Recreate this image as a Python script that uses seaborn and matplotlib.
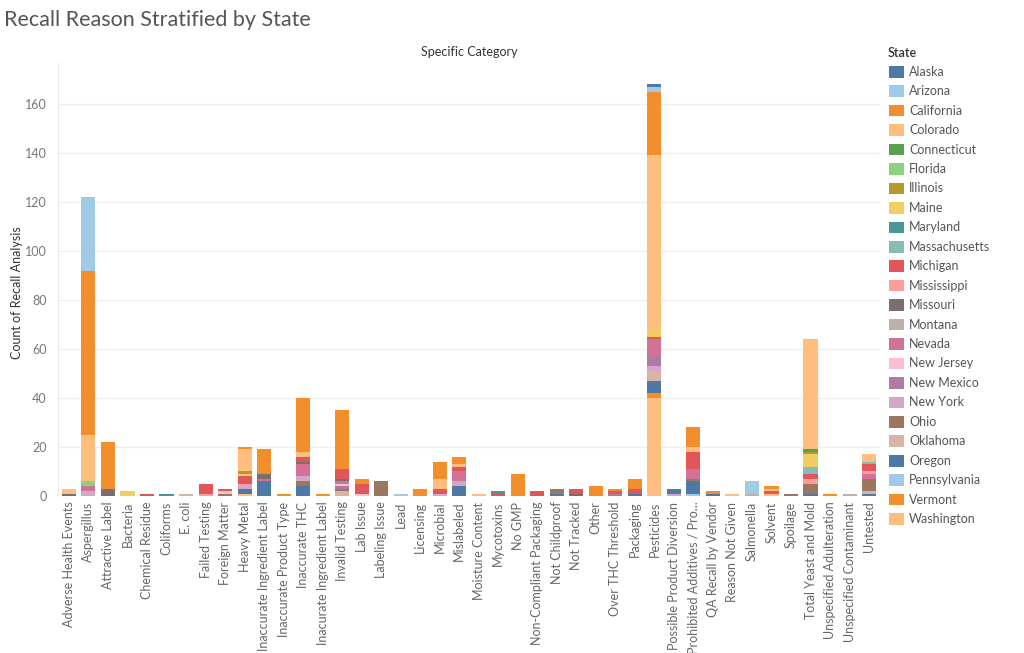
import numpy as np
import pandas as pd
import matplotlib
matplotlib.use("Agg")
import matplotlib.pyplot as plt
from matplotlib.patches import Rectangle
import seaborn as sns

# Recall reasons (x axis), in display order
reasons = [
    "Adverse Health Events", "Aspergillus", "Attractive Label", "Bacteria",
    "Chemical Residue", "Coliforms", "E. coli", "Failed Testing",
    "Foreign Matter", "Heavy Metal", "Inaccurate Ingredient Label",
    "Inaccurate Product Type", "Inaccurate THC", "Inacurate Ingredient Label",
    "Invalid Testing", "Lab Issue", "Labeling Issue", "Lead", "Licensing",
    "Microbial", "Mislabeled", "Moisture Content", "Mycotoxins", "No GMP",
    "Non-Compliant Packaging", "Not Childproof", "Not Tracked", "Other",
    "Over THC Threshold", "Packaging", "Pesticides",
    "Possible Product Diversion", "Prohibited Additives / Pro...",
    "QA Recall by Vendor", "Reason Not Given", "Salmonella", "Solvent",
    "Spoilage", "Total Yeast and Mold", "Unspecified Adulteration",
    "Unspecified Contaminant", "Untested",
]

states = [
    "Alaska", "Arizona", "California", "Colorado", "Connecticut", "Florida",
    "Illinois", "Maine", "Maryland", "Massachusetts", "Michigan",
    "Mississippi", "Missouri", "Montana", "Nevada", "New Jersey",
    "New Mexico", "New York", "Ohio", "Oklahoma", "Oregon", "Pennsylvania",
    "Vermont", "Washington",
]

# Tableau 20 colours, cycling after 20 states
state_colors = [
    "#4E79A7", "#A0CBE8", "#F28E2B", "#FFBE7D", "#59A14F", "#8CD17D",
    "#B6992D", "#F1CE63", "#499894", "#86BCB6", "#E15759", "#FF9D9A",
    "#79706E", "#BAB0AC", "#D37295", "#FABFD2", "#B07AA1", "#D4A6C8",
    "#9D7660", "#D7B5A6", "#4E79A7", "#A0CBE8", "#F28E2B", "#FFBE7D",
]

# number of state segments in each reason's bar
seg_n = [2, 6, 2, 1, 1, 1, 1, 2, 3, 9, 4, 1, 8, 1, 8, 3, 1, 1, 1, 4, 6,
         1, 2, 1, 1, 2, 2, 1, 3, 3, 13, 2, 7, 2, 1, 2, 4, 1, 9, 1, 1, 8]

seg_state = [
    "Colorado", "Missouri",
    "Arizona", "California", "Colorado", "Florida", "Nevada", "New York",
    "California", "Missouri",
    "Maine",
    "Michigan",
    "Maryland",
    "Oklahoma",
    "Michigan", "Mississippi",
    "Michigan", "New Jersey", "Ohio",
    "California", "Colorado", "Illinois", "Maine", "Michigan", "Mississippi", "New York", "Oregon", "Washington",
    "California", "Missouri", "Nevada", "Oregon",
    "California",
    "California", "Colorado", "Michigan", "Missouri", "Nevada", "New York", "Ohio", "Oregon",
    "California",
    "California", "Michigan", "Missouri", "Nevada", "New Jersey", "New Mexico", "Ohio", "Oklahoma",
    "California", "Michigan", "New Jersey",
    "Ohio",
    "Pennsylvania",
    "California",
    "California", "Colorado", "Michigan", "New York",
    "California", "Colorado", "Michigan", "Nevada", "New York", "Oregon",
    "Washington",
    "Maryland", "Michigan",
    "California",
    "Michigan",
    "Ohio", "Oregon",
    "Michigan", "Missouri",
    "California",
    "California", "Michigan", "New Mexico",
    "California", "Michigan", "Oregon",
    "Alaska", "Arizona", "California", "Colorado", "Maine", "Michigan", "Nevada", "New Mexico", "New York", "Oklahoma", "Oregon", "Vermont", "Washington",
    "Alaska", "New York",
    "California", "Colorado", "Michigan", "Nevada", "Ohio", "Oregon", "Pennsylvania",
    "California", "Oregon",
    "Washington",
    "Arizona", "Montana",
    "California", "Colorado", "Michigan", "Washington",
    "Ohio",
    "Colorado", "Connecticut", "Illinois", "Maine", "Massachusetts", "Michigan", "Mississippi", "Ohio", "Oregon",
    "California",
    "Montana",
    "Colorado", "Massachusetts", "Michigan", "Mississippi", "Nevada", "Ohio", "Oklahoma", "Oregon",
]

seg_count = [
    2, 1,
    30, 67, 19, 2, 2, 2,
    19, 3,
    2,
    1,
    1,
    1,
    4, 1,
    1, 1, 1,
    1, 9, 1, 1, 3, 1, 1, 2, 1,
    10, 2, 1, 6,
    1,
    22, 2, 2, 1, 5, 2, 2, 4,
    1,
    24, 4, 1, 1, 1, 1, 1, 2,
    2, 4, 1,
    6,
    1,
    3,
    7, 4, 2, 1,
    3, 1, 2, 4, 2, 4,
    1,
    1, 1,
    9,
    2,
    2, 1,
    2, 1,
    4,
    1, 1, 1,
    4, 2, 1,
    1, 2, 26, 71, 3, 1, 7, 4, 2, 4, 5, 2, 40,
    2, 1,
    8, 2, 7, 4, 1, 5, 1,
    1, 1,
    1,
    5, 1,
    1, 1, 1, 1,
    1,
    45, 1, 1, 5, 3, 2, 2, 4, 1,
    1,
    1,
    3, 1, 3, 1, 2, 5, 1, 1,
]

W, H = 1024, 653


def fx(px):
    return px / W


def fy(py):
    return 1 - py / H


df = pd.DataFrame({
    "Specific Category": pd.Categorical(np.repeat(reasons, seg_n), categories=reasons),
    "State": seg_state,
    "Count": seg_count,
})

sns.set_theme(style="white")
plt.rcParams["font.family"] = ["Lato", "DejaVu Sans"]

fig = plt.figure(figsize=(W / 100, H / 100), dpi=100)
ax = fig.add_axes([fx(58), fy(496), fx(880) - fx(58), fy(63) - fy(496)])

sns.histplot(
    data=df,
    x="Specific Category",
    hue="State",
    weights="Count",
    multiple="stack",
    hue_order=states,
    palette=dict(zip(states, state_colors)),
    shrink=0.72,
    linewidth=0,
    alpha=1,
    legend=False,
    ax=ax,
)

ax.set_xlim(-0.56, len(reasons) - 0.44)
ax.set_ylim(0, 176.7)
ax.set_yticks(range(0, 161, 20))
ax.yaxis.grid(True, color="#eeeeee", linewidth=0.9)
ax.set_axisbelow(True)
for side in ["top", "right", "bottom"]:
    ax.spines[side].set_visible(False)
ax.spines["left"].set_color("#e8e8e8")
ax.spines["left"].set_linewidth(0.8)

ax.set_xticks(range(len(reasons)))
ax.set_xticklabels(reasons, rotation=90, fontsize=9, color="#666666")
ax.tick_params(axis="y", labelsize=9, labelcolor="#777777", length=0, pad=8)
ax.tick_params(axis="x", length=0, pad=4)
ax.set_xlabel("")
ax.set_ylabel("Count of Recall Analysis", fontsize=9, color="#333333")
ax.yaxis.set_label_coords((23 - 58) / 822, 0.47)
ax.set_title("Specific Category", fontsize=9, color="#333333", pad=5)

fig.text(fx(4), fy(20), "Recall Reason Stratified by State", fontsize=15.5,
         color="#555555", ha="left", va="center")

# legend on the right, Tableau style
fig.text(fx(888), fy(53), "State", fontsize=9, fontweight="semibold",
         color="#333333", ha="left", va="center")
for i, (st, col) in enumerate(zip(states, state_colors)):
    yc = 71.7 + i * 19.45
    fig.add_artist(Rectangle((fx(889), fy(yc + 5.8)), fx(15), 11.6 / H,
                             transform=fig.transFigure, facecolor=col,
                             edgecolor="none"))
    fig.text(fx(909), fy(yc), st, fontsize=9, color="#555555",
             ha="left", va="center")

fig.savefig("out.png", dpi=100)
